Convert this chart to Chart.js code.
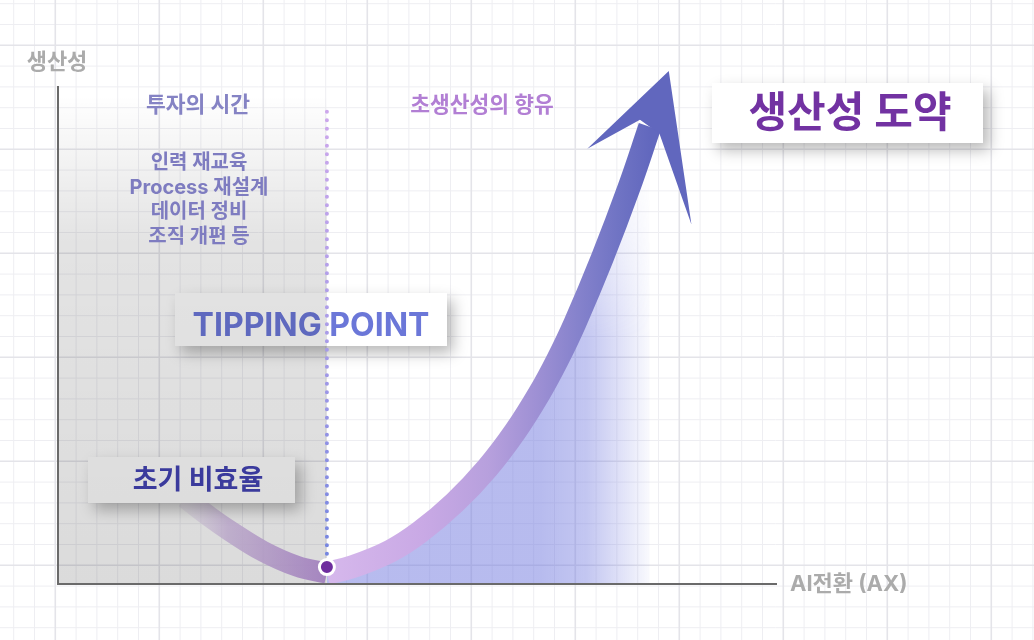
<!DOCTYPE html>
<html lang="ko">
<head>
<meta charset="utf-8">
<title>AI전환과 생산성 J-커브</title>
<script src="https://cdn.jsdelivr.net/npm/chart.js@4.4.1/dist/chart.umd.min.js"></script>
<style>
  html, body { margin: 0; padding: 0; background: #fff; }
  #wrap { width: 1034px; height: 640px; }
</style>
</head>
<body>
<div id="wrap"><canvas id="chart" width="1034" height="640"></canvas></div>
<script>
// J-curve (x: AI전환 progress 0-100, y: 생산성 0-100)
const dipX = [17.7, 21.1, 23.9, 28.5, 33.2, 37.4];
const dipY = [17.3, 13.5, 10.7, 6.6, 3.6, 2.2];
const riseX = [37.4, 41.0, 46.2, 50.3, 55.2, 59.7, 63.6, 67.0, 69.5, 71.9, 75.7, 79.4, 82.3];
const riseY = [2.2, 3.5, 6.6, 10.4, 16.4, 23.3, 30.7, 38.5, 45.2, 52.5, 65.6, 79.7, 92.0];
const tippingX = [37.4, 37.4];
const tippingY = [95.0, 4.5];
const markerX = [37.4];
const markerY = [3.4];

// texts
const axisTitleY = '생산성';
const axisTitleX = 'AI전환 (AX)';
const phaseLabels = ['투자의 시간', '초생산성의 향유'];
const investItems = ['인력 재교육', 'Process 재설계', '데이터 정비', '조직 개편 등'];
const tippingLabel = 'TIPPING POINT';
const dipLabel = '초기 비효율';
const leapLabel = '생산성 도약';

const FONT = "Inter, 'Noto Sans CJK KR', sans-serif";
const toPoints = (xs, ys) => xs.map((x, i) => ({ x: x, y: ys[i] }));

// gradient helpers
function dipColor(context) {
    const chart = context.chart;
    if (!chart.chartArea) return '#bf9ade';
    const xs = chart.scales.x;
    const g = chart.ctx.createLinearGradient(xs.getPixelForValue(dipX[0]), 0, xs.getPixelForValue(dipX[dipX.length - 1]), 0);
    g.addColorStop(0, 'rgba(228,216,238,0.35)');
    g.addColorStop(0.3, 'rgba(214,192,232,0.85)');
    g.addColorStop(1, '#bf9ade');
    return g;
}

function riseColor(context) {
    const chart = context.chart;
    if (!chart.chartArea) return '#8582cc';
    const xs = chart.scales.x;
    const g = chart.ctx.createLinearGradient(xs.getPixelForValue(riseX[0]), 0, xs.getPixelForValue(riseX[riseX.length - 1]), 0);
    g.addColorStop(0, '#d6b8ec');
    g.addColorStop(0.3, '#c9a9e5');
    g.addColorStop(0.5, '#b7a0dd');
    g.addColorStop(0.65, '#9e90d4');
    g.addColorStop(0.78, '#8582cc');
    g.addColorStop(0.9, '#7074c4');
    g.addColorStop(1, '#6268be');
    return g;
}

function riseFill(context) {
    const chart = context.chart;
    if (!chart.chartArea) return 'rgba(0,0,0,0)';
    const w = chart.width, h = chart.height;
    const c = document.createElement('canvas');
    c.width = w; c.height = h;
    const g = c.getContext('2d');
    const endPx = chart.scales.x.getPixelForValue(riseX[riseX.length - 1]) + 6;
    const hg = g.createLinearGradient(endPx - 115, 0, endPx, 0);
    hg.addColorStop(0, 'rgba(112,120,222,0.5)');
    hg.addColorStop(0.4, 'rgba(112,120,222,0.42)');
    hg.addColorStop(0.75, 'rgba(112,120,222,0.18)');
    hg.addColorStop(1, 'rgba(112,120,222,0)');
    g.fillStyle = hg;
    g.fillRect(0, 0, w, h);
    g.globalCompositeOperation = 'destination-in';
    const vg = g.createLinearGradient(0, 125, 0, 340);
    vg.addColorStop(0, 'rgba(0,0,0,0)');
    vg.addColorStop(1, 'rgba(0,0,0,1)');
    g.fillStyle = vg;
    g.fillRect(0, 0, w, h);
    return chart.ctx.createPattern(c, 'no-repeat');
}

function dotColor(context) {
    const chart = context.chart;
    if (!chart.chartArea) return '#a79ae6';
    const ys = chart.scales.y;
    const g = chart.ctx.createLinearGradient(0, ys.getPixelForValue(tippingY[0]), 0, ys.getPixelForValue(tippingY[1]));
    g.addColorStop(0, '#cda8ec');
    g.addColorStop(0.5, '#a99ce8');
    g.addColorStop(1, '#7385e0');
    return g;
}

// small drawing helpers
function box(ctx, x, y, w, h, fill) {
    ctx.save();
    ctx.shadowColor = 'rgba(0,0,0,0.28)';
    ctx.shadowBlur = 14;
    ctx.shadowOffsetX = 6;
    ctx.shadowOffsetY = 7;
    ctx.fillStyle = fill;
    ctx.fillRect(x, y, w, h);
    ctx.restore();
}

function text(ctx, str, x, y, size, color, align) {
    ctx.save();
    ctx.font = '700 ' + size + 'px ' + FONT;
    ctx.fillStyle = color;
    ctx.textAlign = align || 'center';
    ctx.textBaseline = 'middle';
    ctx.fillText(str, x, y);
    ctx.restore();
}

// squared paper behind everything
const paperGrid = {
    id: 'paperGrid',
    beforeDraw(chart) {
        const ctx = chart.ctx, w = chart.width, h = chart.height;
        const step = 20.8, ox = 783.3, oy = 253.3;
        ctx.save();
        ctx.fillStyle = '#ffffff';
        ctx.fillRect(0, 0, w, h);
        for (let pass = 0; pass < 2; pass++) {
            ctx.strokeStyle = pass ? '#e4e4e9' : '#eeeef2';
            ctx.lineWidth = pass ? 1.6 : 1;
            ctx.beginPath();
            for (let k = -40; k <= 15; k++) {
                const major = ((k % 5) + 5) % 5 === 0;
                if (major !== !!pass) continue;
                const x = ox + k * step;
                if (x >= 0 && x <= w) { ctx.moveTo(x, 0); ctx.lineTo(x, h); }
            }
            for (let k = -15; k <= 20; k++) {
                const major = ((k % 5) + 5) % 5 === 0;
                if (major !== !!pass) continue;
                const y = oy + k * step;
                if (y >= 0 && y <= h) { ctx.moveTo(0, y); ctx.lineTo(w, y); }
            }
            ctx.stroke();
        }
        ctx.restore();
    }
};

// arrowhead, boxes under the shade, and the grey "investment" shade
const layers = {
    id: 'layers',
    afterDatasetDraw(chart, args) {
        const ctx = chart.ctx;
        const label = chart.data.datasets[args.index].label;
        if (label === 'rise') {
            const pts = args.meta.data;
            const a = pts[pts.length - 2], b = pts[pts.length - 1];
            let dx = b.x - a.x, dy = b.y - a.y;
            const len = Math.hypot(dx, dy);
            dx /= len; dy /= len;
            const nx = -dy, ny = dx;
            const at = (f, s) => [b.x + dx * f + nx * s, b.y + dy * f + ny * s];
            const shape = [at(59, 0), at(-41, -52), at(3.5, -11.5), at(-3.5, 11.5), at(-79, 71)];
            ctx.save();
            ctx.fillStyle = '#6167be';
            ctx.beginPath();
            shape.forEach((p, i) => i ? ctx.lineTo(p[0], p[1]) : ctx.moveTo(p[0], p[1]));
            ctx.closePath();
            ctx.fill();
            ctx.restore();
        }
        if (label === 'dip') {
            const xs = chart.scales.x, area = chart.chartArea;
            box(ctx, 175, 293, 272, 53, '#ffffff');
            text(ctx, tippingLabel, 311, 326, 32, '#6b77d8');
            box(ctx, 88, 457, 207, 46, '#ffffff');
            text(ctx, dipLabel, 198, 481, 27, '#4343b4');
            const right = xs.getPixelForValue(tippingX[0]);
            const g = ctx.createLinearGradient(0, 95, 0, area.bottom);
            g.addColorStop(0, 'rgba(0,0,0,0)');
            g.addColorStop(0.3, 'rgba(0,0,0,0.11)');
            g.addColorStop(1, 'rgba(0,0,0,0.14)');
            ctx.save();
            ctx.fillStyle = g;
            ctx.fillRect(area.left, 95, right - area.left, area.bottom - 95);
            ctx.restore();
        }
    },
    afterDraw(chart) {
        const ctx = chart.ctx, area = chart.chartArea;
        // axes
        ctx.save();
        ctx.strokeStyle = '#6a6a6a';
        ctx.lineWidth = 2;
        ctx.beginPath();
        ctx.moveTo(area.left, area.top - 1);
        ctx.lineTo(area.left, area.bottom);
        ctx.lineTo(area.right, area.bottom);
        ctx.stroke();
        ctx.restore();
        text(ctx, axisTitleY, 57, 62, 22, '#ababab');
        text(ctx, axisTitleX, 790, 584, 22, '#ababab', 'left');
        text(ctx, phaseLabels[0], 198, 106, 21.5, '#8583c4');
        text(ctx, phaseLabels[1], 482, 106, 21.5, '#b27fd4');
        investItems.forEach((s, i) => text(ctx, s, 199, 163 + i * 24.7, 20, '#7e7cc0'));
        box(ctx, 712, 83, 271, 60, '#ffffff');
        text(ctx, leapLabel, 850, 114, 42, '#7232a2');
    }
};

const ctx = document.getElementById('chart').getContext('2d');
new Chart(ctx, {
    type: 'line',
    data: {
        datasets: [
            {
                label: 'marker',
                data: toPoints(markerX, markerY),
                order: 0,
                showLine: false,
                clip: false,
                pointRadius: 7.5,
                pointBackgroundColor: '#6e2d9e',
                pointBorderColor: '#ffffff',
                pointBorderWidth: 3
            },
            {
                label: 'tipping',
                data: toPoints(tippingX, tippingY),
                order: 1,
                clip: false,
                borderColor: dotColor,
                borderWidth: 4,
                borderDash: [0, 8.5],
                borderCapStyle: 'round',
                pointRadius: 0
            },
            {
                label: 'dip',
                data: toPoints(dipX, dipY),
                order: 3,
                clip: false,
                borderColor: dipColor,
                borderWidth: 21,
                tension: 0.4,
                pointRadius: 0,
                fill: false
            },
            {
                label: 'rise',
                data: toPoints(riseX, riseY),
                order: 4,
                clip: false,
                borderColor: riseColor,
                borderWidth: 23,
                tension: 0.4,
                pointRadius: 0,
                fill: 'origin',
                backgroundColor: riseFill
            }
        ]
    },
    options: {
        responsive: false,
        animation: false,
        events: [],
        layout: { padding: { left: 58, right: 257, top: 87, bottom: 56 } },
        scales: {
            x: { type: 'linear', min: 0, max: 100, display: false },
            y: { type: 'linear', min: 0, max: 100, display: false }
        },
        plugins: {
            legend: { display: false },
            tooltip: { enabled: false }
        }
    },
    plugins: [paperGrid, layers]
});
</script>
</body>
</html>
